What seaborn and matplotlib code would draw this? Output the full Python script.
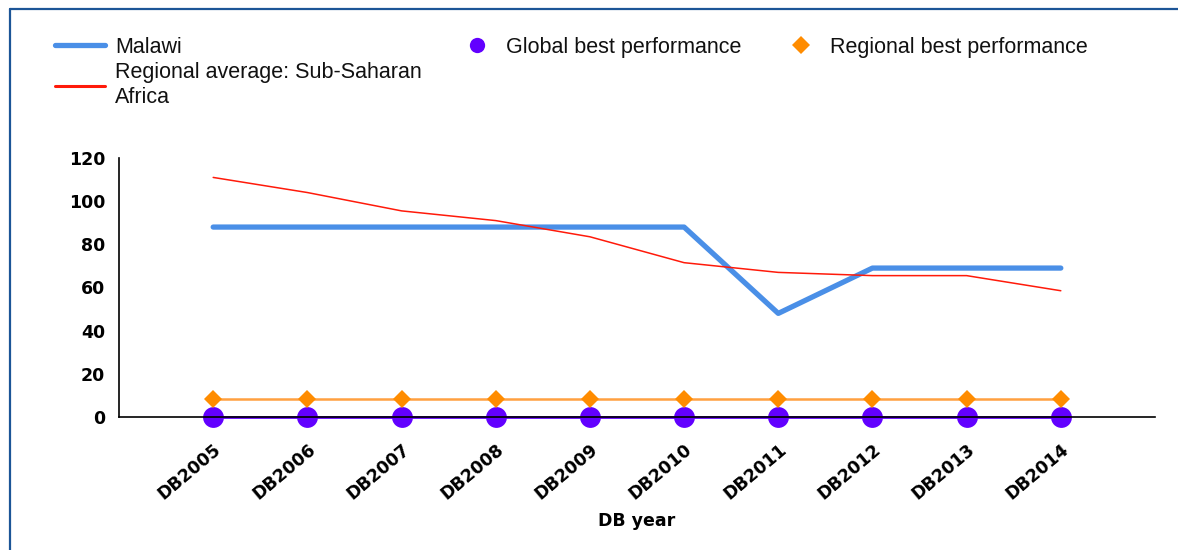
import pandas as pd
import seaborn as sns
import matplotlib.pyplot as plt
from matplotlib.lines import Line2D

# Data
years = ['DB2005', 'DB2006', 'DB2007', 'DB2008', 'DB2009',
         'DB2010', 'DB2011', 'DB2012', 'DB2013', 'DB2014']
malawi = [88, 88, 88, 88, 88, 88, 48, 69, 69, 69]
regional_avg = [111, 104, 95.5, 91, 83.5, 71.5, 67, 65.5, 65.5, 58.5]
global_best = [0, 0, 0, 0, 0, 0, 0, 0, 0, 0]
regional_best = [8.5, 8.5, 8.5, 8.5, 8.5, 8.5, 8.5, 8.5, 8.5, 8.5]

df = pd.DataFrame({'DB year': years, 'Malawi': malawi, 'Regional average': regional_avg,
                   'Global best': global_best, 'Regional best': regional_best})

sns.set_style('white')
plt.rcParams['font.family'] = ['DejaVu Sans']
plt.rcParams['text.color'] = 'black'
plt.rcParams['axes.labelcolor'] = 'black'
plt.rcParams['xtick.color'] = 'black'
plt.rcParams['ytick.color'] = 'black'

blue = '#4a8fe7'
red = '#ff1a0a'
purple = '#6200ff'
orange = '#ff8c00'

fig = plt.figure(figsize=(11.78, 5.5), dpi=100)
ax = fig.add_axes([119 / 1178, 1 - 417 / 550, (1155 - 119) / 1178, (417 - 158) / 550])

# Series
sns.lineplot(data=df, x='DB year', y='Global best', ax=ax, color=purple, lw=2,
             marker='o', markersize=15, markeredgewidth=0, clip_on=False, zorder=2)
sns.lineplot(data=df, x='DB year', y='Regional best', ax=ax, color='#ffa040', lw=1.8,
             marker='D', markersize=9, markerfacecolor=orange, markeredgewidth=0,
             clip_on=False, zorder=3)
sns.lineplot(data=df, x='DB year', y='Malawi', ax=ax, color=blue, lw=3.8, zorder=4)
sns.lineplot(data=df, x='DB year', y='Regional average', ax=ax, color=red, lw=1.1, zorder=5)

# Axes styling
ax.set_xlim(-1, 10)
ax.set_ylim(0, 120)
ax.set_yticks(range(0, 121, 20))
for side in ['top', 'right']:
    ax.spines[side].set_visible(False)
for side in ['left', 'bottom']:
    ax.spines[side].set_color('black')
    ax.spines[side].set_linewidth(1.2)
    ax.spines[side].set_zorder(6)
ax.xaxis.set_zorder(6)
ax.set_xticks([10], minor=True)
ax.tick_params(axis='x', which='both', direction='inout', length=8, width=1.2, color='black')
ax.tick_params(axis='y', direction='out', length=5, width=1.2, color='black', pad=5)
ax.set_xticks(range(len(years)))
ax.set_xticklabels(years, rotation=40, ha='right', rotation_mode='anchor',
                   fontsize=12.5, fontweight='bold', color='black')
for lab in ax.get_yticklabels():
    lab.set_fontsize(12.5)
    lab.set_fontweight('bold')
    lab.set_color('black')
ax.tick_params(axis='x', pad=13)
ax.set_xlabel('DB year', fontsize=12.5, fontweight='bold', labelpad=6, color='black')
ax.set_ylabel('')

# Legends
leg_font = {'family': 'Liberation Sans', 'size': 15.5}
top_y = 1 - 37 / 550
h1 = [Line2D([], [], color=blue, lw=3.8), Line2D([], [], color=red, lw=2.2)]
leg1 = fig.legend(h1, ['Malawi', 'Regional average: Sub-Saharan\nAfrica'],
                  loc='upper left', bbox_to_anchor=(55 / 1178, top_y),
                  frameon=False, prop=leg_font, borderpad=0, borderaxespad=0,
                  handlelength=2.3, handletextpad=0.5, labelspacing=0.2)
h2 = [Line2D([], [], color=purple, lw=0, marker='o', markersize=11, markeredgewidth=0)]
leg2 = fig.legend(h2, ['Global best performance'], loc='upper left',
                  bbox_to_anchor=(466 / 1178, top_y), frameon=False, prop=leg_font,
                  borderpad=0, borderaxespad=0, handlelength=1.0, handletextpad=0.85)
h3 = [Line2D([], [], color=orange, lw=0, marker='D', markersize=9, markeredgewidth=0)]
leg3 = fig.legend(h3, ['Regional best performance'], loc='upper left',
                  bbox_to_anchor=(790 / 1178, top_y), frameon=False, prop=leg_font,
                  borderpad=0, borderaxespad=0, handlelength=1.0, handletextpad=0.85)
for leg in (leg1, leg2, leg3):
    for t in leg.get_texts():
        t.set_color('#111111')
        t.set_linespacing(1.25)

# Frame border (left and top)
fig.add_artist(Line2D([10 / 1178, 10 / 1178], [0, 1 - 9 / 550], color='#1c5597', lw=1.6,
                      transform=fig.transFigure))
fig.add_artist(Line2D([10 / 1178, 1], [1 - 9 / 550, 1 - 9 / 550], color='#1c5597', lw=1.6,
                      transform=fig.transFigure))

plt.savefig('out.png', dpi=100)
